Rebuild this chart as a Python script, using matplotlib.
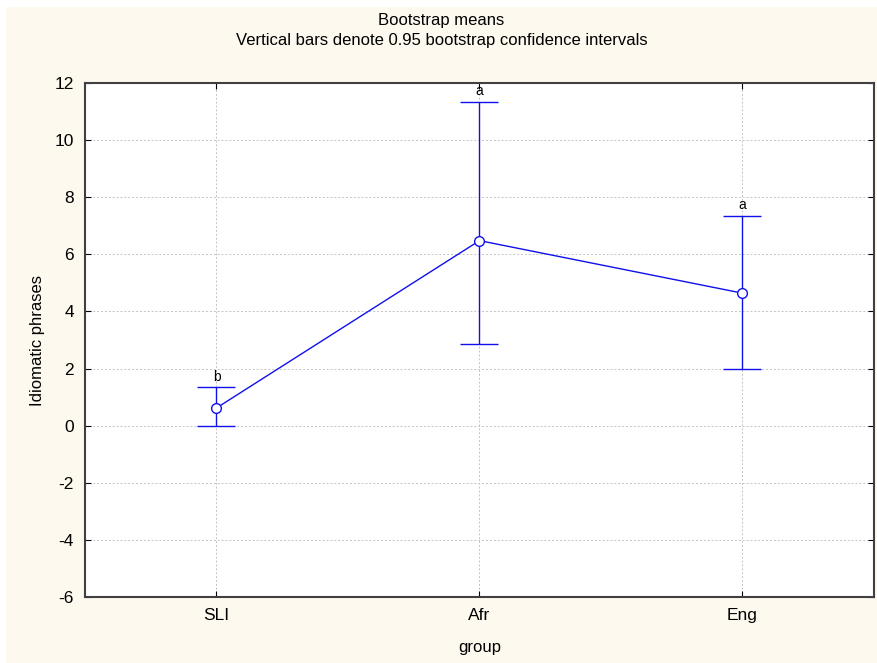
import matplotlib.pyplot as plt
from matplotlib.patches import Rectangle

groups = ['SLI', 'Afr', 'Eng']
means = [0.62, 6.48, 4.64]
ci_low = [0.0, 2.85, 2.0]
ci_high = [1.35, 11.35, 7.35]
letters = ['b', 'a', 'a']

plt.rcParams['font.family'] = ['Liberation Sans', 'DejaVu Sans']
plt.rcParams['axes.unicode_minus'] = False

fig = plt.figure(figsize=(8.77, 6.63), dpi=100)
fig.patch.set_facecolor('white')
fig.patches.append(Rectangle((6 / 877, 0), 1, 1 - 7 / 663, transform=fig.transFigure,
                             facecolor='#fdf9ef', edgecolor='none', zorder=-10))
ax = fig.add_axes([85 / 877, 1 - 597 / 663, 789 / 877, 514 / 663])
ax.set_facecolor('white')
ax.set_zorder(1)

x = list(range(len(groups)))
yerr = [[m - lo for m, lo in zip(means, ci_low)], [hi - m for m, hi in zip(means, ci_high)]]
ax.errorbar(x, means, yerr=yerr, color='#1010ee', lw=1, capsize=14, capthick=1,
            marker='o', markersize=7, markerfacecolor='white', markeredgecolor='#1010ee', zorder=3)
for xi, hi, lab in zip(x, ci_high, letters):
    ax.text(xi, hi + 0.12, lab, ha='center', va='bottom', fontsize=10)

ax.set_xlim(-0.5, 2.5)
ax.set_ylim(-6, 12)
ax.set_xticks(x)
ax.set_xticklabels(groups)
ax.set_yticks(range(-6, 13, 2))
ax.tick_params(direction='in', top=True, right=True, labelsize=12.5, length=4, pad=8)
ax.grid(True, color='#c4c4c4', linestyle=(0, (2, 2)), lw=0.7)
for s in ax.spines.values():
    s.set_color('#404040')
    s.set_linewidth(1.5)

ax.set_xlabel('group', fontsize=12, labelpad=12)
ax.set_ylabel('Idiomatic phrases', fontsize=12, labelpad=7)
fig.text(0.5 + 3 / 877, 1 - 21 / 663, 'Bootstrap means', ha='center', va='center', fontsize=12)
fig.text(0.5 + 3 / 877, 1 - 40 / 663, 'Vertical bars denote 0.95 bootstrap confidence intervals',
         ha='center', va='center', fontsize=12)

fig.savefig('out.png', dpi=100, facecolor=fig.get_facecolor())
